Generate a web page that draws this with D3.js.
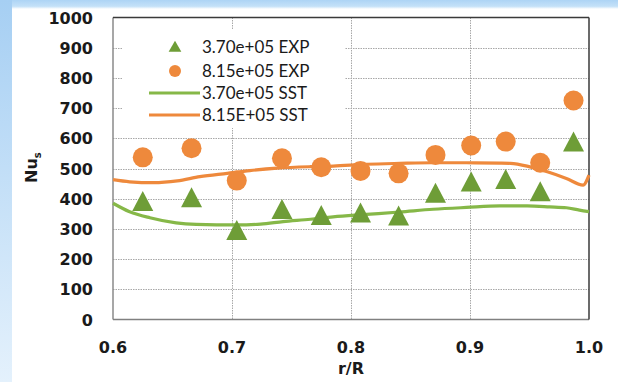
<!DOCTYPE html>
<html lang="en">
  <head>
    <meta charset="UTF-8" />
    <title>Nu_s vs r/R</title>
    <script src="https://cdnjs.cloudflare.com/ajax/libs/d3/7.8.5/d3.min.js"></script>
    <style>
      body { margin: 0; background: #fff; }
      .tick-label { font-family: "DejaVu Sans", sans-serif; font-weight: bold; font-size: 16px; fill: #1a1a1a; }
      .legend-text { font-family: Lato, sans-serif; font-size: 17px; fill: #1a1a1a; }
      .grid line { stroke: #a8a8a8; stroke-width: 1; stroke-dasharray: 1.5 1; }
    </style>
  </head>
  <body>
    <svg id="chart" width="618" height="382"></svg>
    <script>
      // measured points (both EXP series share the same radial stations)
      var rExp = [0.625, 0.666, 0.704, 0.742, 0.775, 0.808, 0.840, 0.871, 0.901, 0.930, 0.959, 0.987];
      var nuExpLow = [392, 405, 296, 366, 346, 354, 344, 420, 457, 465, 425, 589];
      var nuExpHigh = [537, 567, 460, 534, 504, 492, 484, 545, 576, 589, 519, 725];

      // SST curves
      var rSstLow = [0.600, 0.614, 0.631, 0.653, 0.670, 0.704, 0.724, 0.743, 0.766, 0.785, 0.813, 0.841, 0.869, 0.897, 0.925, 0.948, 0.967, 0.981, 0.992, 1.000];
      var nuSstLow = [385, 357, 337, 320, 315, 313, 316, 324, 332, 340, 348, 356, 365, 371, 376, 376, 373, 370, 362, 357];
      var rSstHigh = [0.600, 0.614, 0.634, 0.654, 0.673, 0.696, 0.715, 0.738, 0.766, 0.785, 0.813, 0.841, 0.869, 0.897, 0.925, 0.934, 0.948, 0.965, 0.981, 0.995, 1.000];
      var nuSstHigh = [463, 456, 453, 459, 473, 484, 493, 501, 506, 508, 514, 517, 519, 519, 518, 517, 508, 489, 467, 445, 478];

      var xTicks = [0.6, 0.7, 0.8, 0.9, 1.0];
      var yTicks = [0, 100, 200, 300, 400, 500, 600, 700, 800, 900, 1000];
      var legendLabels = ["3.70e+05 EXP", "8.15e+05 EXP", "3.70e+05 SST", "8.15E+05 SST"];

      var green = "#6e9d37", greenLine = "#86b848", orange = "#ee893c";

      var svg = d3.select("#chart");
      var defs = svg.append("defs");

      // blue frame of the slide
      var gl = defs.append("linearGradient").attr("id", "leftBlue").attr("x1", 0).attr("x2", 0).attr("y1", 0).attr("y2", 1);
      gl.append("stop").attr("offset", "0%").attr("stop-color", "#a6cff3");
      gl.append("stop").attr("offset", "100%").attr("stop-color", "#e4f1fc");
      var gt = defs.append("linearGradient").attr("id", "topBlue").attr("x1", 0).attr("x2", 0).attr("y1", 0).attr("y2", 1);
      gt.append("stop").attr("offset", "0%").attr("stop-color", "#add4f5");
      gt.append("stop").attr("offset", "70%").attr("stop-color", "#c4e1f8");
      gt.append("stop").attr("offset", "100%").attr("stop-color", "#ffffff");
      svg.append("rect").attr("x", 0).attr("y", 0).attr("width", 618).attr("height", 9).attr("fill", "url(#topBlue)");
      svg.append("rect").attr("x", 0).attr("y", 0).attr("width", 12).attr("height", 382).attr("fill", "url(#leftBlue)");

      var x = d3.scaleLinear().domain([0.6, 1.0]).range([113, 589]);
      var y = d3.scaleLinear().domain([0, 1000]).range([319.5, 17.5]);

      // grid
      var grid = svg.append("g").attr("class", "grid");
      grid.selectAll(".h").data(yTicks.slice(1, -1)).join("line")
        .attr("x1", x(0.6)).attr("x2", x(1.0))
        .attr("y1", d => Math.round(y(d)) + 0.5).attr("y2", d => Math.round(y(d)) + 0.5);
      grid.selectAll(".v").data(xTicks.slice(1, -1)).join("line")
        .attr("x1", d => Math.round(x(d)) + 0.5).attr("x2", d => Math.round(x(d)) + 0.5)
        .attr("y1", y(1000)).attr("y2", y(0));

      // plot frame: left/bottom light, top/right dark
      svg.append("line").attr("x1", x(0.6)).attr("x2", x(0.6)).attr("y1", y(1000)).attr("y2", y(0)).attr("stroke", "#8a8a8a").attr("stroke-width", 1.5);
      svg.append("line").attr("x1", x(0.6)).attr("x2", x(1.0)).attr("y1", y(0)).attr("y2", y(0)).attr("stroke", "#808080").attr("stroke-width", 1.5);
      svg.append("line").attr("x1", x(0.6)).attr("x2", x(1.0)).attr("y1", y(1000)).attr("y2", y(1000)).attr("stroke", "#3a3a3a").attr("stroke-width", 1.5);
      svg.append("line").attr("x1", x(1.0)).attr("x2", x(1.0)).attr("y1", y(1000)).attr("y2", y(0)).attr("stroke", "#3a3a3a").attr("stroke-width", 1.5);

      // axes labels
      svg.append("g").selectAll("text").data(yTicks).join("text")
        .attr("class", "tick-label").attr("text-anchor", "end")
        .attr("x", 93).attr("y", d => y(d) + 6)
        .text(d => d);
      svg.append("g").selectAll("text").data(xTicks).join("text")
        .attr("class", "tick-label").attr("text-anchor", "middle")
        .attr("x", d => x(d)).attr("y", 353)
        .text(d => d3.format(".1f")(d));
      svg.append("text").attr("class", "tick-label").attr("text-anchor", "middle")
        .attr("x", 351).attr("y", 374).text("r/R");
      var yl = svg.append("text").attr("class", "tick-label")
        .attr("transform", "translate(37,183) rotate(-90)");
      yl.append("tspan").text("Nu");
      yl.append("tspan").attr("font-size", 10).attr("dy", 4).text("s");

      // legend (white box over the grid)
      var lg = svg.append("g");
      lg.append("rect").attr("x", 123).attr("y", 30).attr("width", 222).attr("height", 98).attr("fill", "#fff");
      var rows = [47, 71, 93, 115];
      lg.append("path").attr("d", d3.symbol(d3.symbolTriangle, 70)()).attr("transform", "translate(175," + (rows[0] + 1) + ")").attr("fill", green);
      lg.append("circle").attr("cx", 175).attr("cy", rows[1]).attr("r", 6).attr("fill", orange);
      lg.append("line").attr("x1", 149).attr("x2", 200).attr("y1", rows[2]).attr("y2", rows[2]).attr("stroke", greenLine).attr("stroke-width", 3);
      lg.append("line").attr("x1", 149).attr("x2", 200).attr("y1", rows[3]).attr("y2", rows[3]).attr("stroke", orange).attr("stroke-width", 3);
      lg.selectAll("text").data(legendLabels).join("text")
        .attr("class", "legend-text").attr("x", 202).attr("y", (d, i) => rows[i] + 6)
        .text(d => d);

      // SST lines
      var line = d3.line().x(d => x(d[0])).y(d => y(d[1])).curve(d3.curveMonotoneX);
      svg.append("path").datum(d3.zip(rSstLow, nuSstLow)).attr("d", line)
        .attr("fill", "none").attr("stroke", greenLine).attr("stroke-width", 3.2);
      svg.append("path").datum(d3.zip(rSstHigh, nuSstHigh)).attr("d", line)
        .attr("fill", "none").attr("stroke", orange).attr("stroke-width", 3.2);

      // EXP markers
      svg.append("g").selectAll("circle").data(d3.zip(rExp, nuExpHigh)).join("circle")
        .attr("cx", d => x(d[0])).attr("cy", d => y(d[1])).attr("r", 10)
        .attr("fill", orange);
      svg.append("g").selectAll("path").data(d3.zip(rExp, nuExpLow)).join("path")
        .attr("d", "M0,-10L10.5,10L-10.5,10Z")
        .attr("transform", d => "translate(" + x(d[0]) + "," + y(d[1]) + ")")
        .attr("fill", green);
    </script>
  </body>
</html>
